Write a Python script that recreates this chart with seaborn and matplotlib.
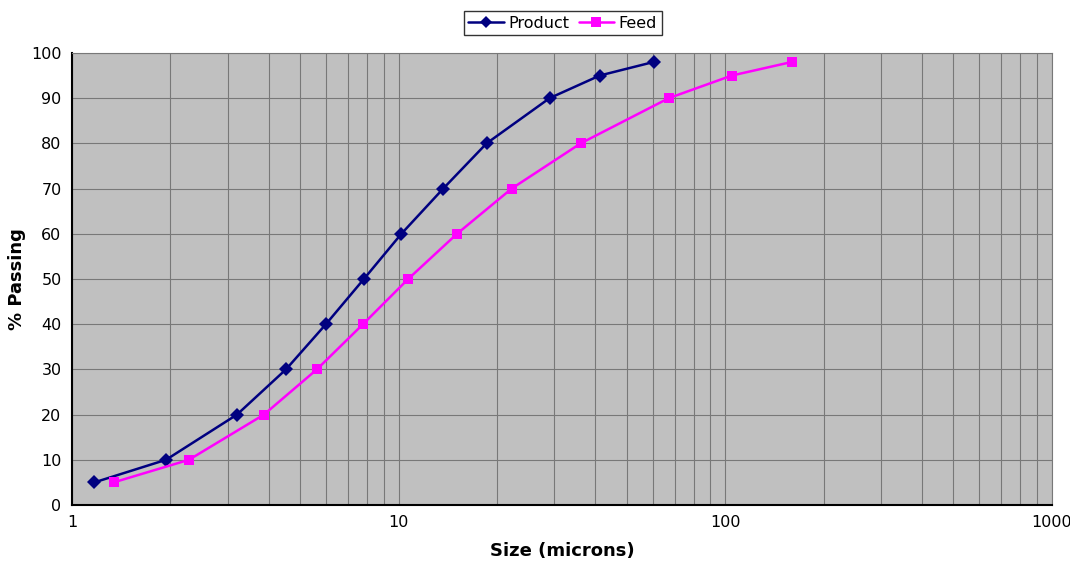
import numpy as np
import pandas as pd
import seaborn as sns
import matplotlib.pyplot as plt
from matplotlib.ticker import LogLocator, FixedLocator, NullFormatter

product_size = [1.17, 1.94, 3.2, 4.52, 5.99, 7.83, 10.2, 13.7, 18.6, 29.0, 41.3, 60.4]
product_pass = [5, 10, 20, 30, 40, 50, 60, 70, 80, 90, 95, 98]
feed_size = [1.34, 2.28, 3.87, 5.62, 7.78, 10.7, 15.1, 22.2, 36.1, 67.2, 104.8, 160]
feed_pass = [5, 10, 20, 30, 40, 50, 60, 70, 80, 90, 95, 98]

df = pd.concat([
    pd.DataFrame({"size": product_size, "passing": product_pass, "series": "Product"}),
    pd.DataFrame({"size": feed_size, "passing": feed_pass, "series": "Feed"}),
])

sns.set_style("white")
plt.rcParams['font.family'] = ['DejaVu Sans']
plt.rcParams['text.color'] = 'black'
plt.rcParams['axes.labelcolor'] = 'black'
plt.rcParams['xtick.color'] = 'black'
plt.rcParams['ytick.color'] = 'black'

fig = plt.figure(figsize=(10.7, 5.63), dpi=100)
ax = fig.add_axes([0.0673, 0.103, 0.9157, 0.803])
ax.set_facecolor('#c0c0c0')

sns.lineplot(data=df, x="size", y="passing", hue="series", style="series",
             palette={"Product": "#000080", "Feed": "#ff00ff"},
             markers={"Product": "D", "Feed": "s"}, dashes=False,
             markersize=7, linewidth=1.8, markeredgewidth=0, sort=False,
             ax=ax, legend=False)

ax.set_xscale('log')
ax.set_xlim(1, 1000)
ax.set_ylim(0, 100)
ax.set_yticks(range(0, 101, 10))
ax.xaxis.set_major_locator(FixedLocator([1, 10, 100, 1000]))
ax.set_xticklabels(['1', '10', '100', '1000'])
ax.xaxis.set_minor_locator(LogLocator(base=10, subs=np.arange(2, 10)))
ax.xaxis.set_minor_formatter(NullFormatter())

ax.grid(True, which='both', axis='x', color='#787878', linewidth=0.8)
ax.grid(True, which='major', axis='y', color='#787878', linewidth=0.8)
ax.set_axisbelow(True)
ax.tick_params(axis='x', which='minor', length=0)
ax.tick_params(axis='both', which='major', direction='out', length=4, width=1,
               labelsize=11.5, color='black', labelcolor='black')

for s in ['top', 'right']:
    ax.spines[s].set_color('#787878')
    ax.spines[s].set_linewidth(0.8)
for s in ['left', 'bottom']:
    ax.spines[s].set_color('black')
    ax.spines[s].set_linewidth(1.5)

ax.set_xlabel('Size (microns)', fontsize=13, fontweight='bold', labelpad=8, color='black')
ax.set_ylabel('% Passing', fontsize=13, fontweight='bold', labelpad=4, color='black')

handles = [
    plt.Line2D([], [], color='#000080', marker='D', markersize=6, linewidth=1.8, markeredgewidth=0),
    plt.Line2D([], [], color='#ff00ff', marker='s', markersize=7, linewidth=1.8, markeredgewidth=0),
]
leg = fig.legend(handles, ['Product', 'Feed'], loc='center', bbox_to_anchor=(0.526, 0.959),
                 ncol=2, frameon=True, fancybox=False, fontsize=11.5, handlelength=2.2,
                 columnspacing=0.6, handletextpad=0.3, borderpad=0.3)
leg.get_frame().set_edgecolor('black')
leg.get_frame().set_linewidth(1)

fig.savefig('out.png', dpi=100)
